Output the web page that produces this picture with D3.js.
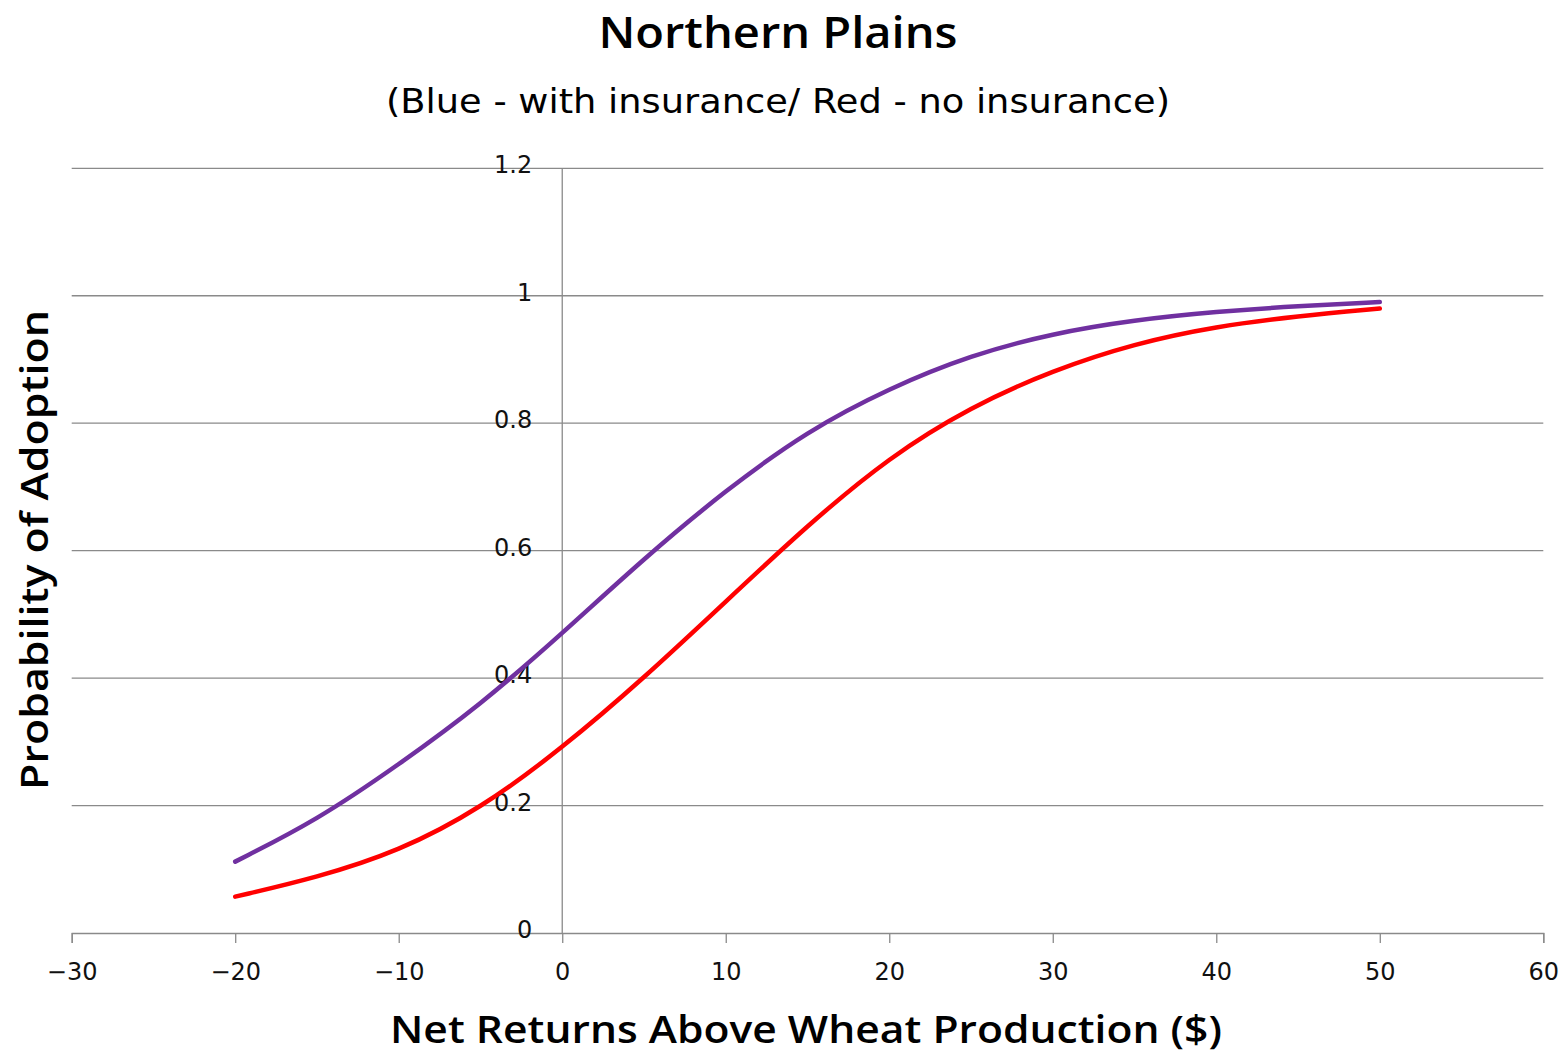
<!DOCTYPE html>
<html>
<head>
<meta charset="utf-8">
<script src="https://cdn.jsdelivr.net/npm/d3@7"></script>
<style>
  html, body { margin: 0; padding: 0; background: #fff; }
  svg { display: block; font-family: "DejaVu Sans", sans-serif; }
</style>
</head>
<body>
<svg id="chart" width="1563" height="1054"></svg>
<script>
// Net returns above wheat production ($)
const netReturns = [-20, -15, -10, -5, 0, 5, 10, 15, 20, 25, 30, 35, 40, 45, 50];
// Probability of adoption, with crop insurance
const withInsurance = [0.112, 0.177, 0.264, 0.358, 0.470, 0.588, 0.695, 0.788, 0.855, 0.907, 0.941, 0.962, 0.975, 0.984, 0.990];
// Probability of adoption, without crop insurance
const noInsurance = [0.057, 0.087, 0.128, 0.195, 0.290, 0.400, 0.520, 0.640, 0.747, 0.826, 0.883, 0.925, 0.952, 0.968, 0.980];

const xTicks = [-30, -20, -10, 0, 10, 20, 30, 40, 50, 60];
const yTicks = [0, 0.2, 0.4, 0.6, 0.8, 1, 1.2];
const yTickLabels = ["0", "0.2", "0.4", "0.6", "0.8", "1", "1.2"];

const svg = d3.select("#chart");

const x = d3.scaleLinear().domain([-30, 60]).range([71.7, 1543.3]);
const y = d3.scaleLinear().domain([0, 1.2]).range([933, 168.3]);

const gridColor = "#8a8a8a";
const titleFont = "'Open Sans', 'DejaVu Sans', sans-serif";

// horizontal gridlines
svg.append("g")
  .selectAll("line")
  .data(yTicks.filter(d => d > 0))
  .join("line")
  .attr("x1", x(-30)).attr("x2", x(60))
  .attr("y1", d => y(d)).attr("y2", d => y(d))
  .attr("stroke", gridColor).attr("stroke-width", 1.3);

// vertical axis crossing at x = 0
svg.append("line")
  .attr("x1", x(0)).attr("x2", x(0))
  .attr("y1", y(0)).attr("y2", y(1.2))
  .attr("stroke", gridColor).attr("stroke-width", 1.3);

// horizontal axis with ticks below
const xAxis = d3.axisBottom(x).tickValues(xTicks).tickSize(10).tickPadding(20)
  .tickFormat(d => d < 0 ? "\u2212" + Math.abs(d) : String(d));
const gx = svg.append("g").attr("transform", `translate(0,${y(0)})`).call(xAxis);
gx.select(".domain").attr("stroke", gridColor).attr("stroke-width", 1.3);
gx.selectAll(".tick line").attr("stroke", gridColor).attr("stroke-width", 1.3);
gx.selectAll(".tick text")
  .attr("fill", "#111").attr("font-size", 24)
  .attr("font-family", "DejaVu Sans, sans-serif");

// y tick labels sit just left of the vertical axis
svg.append("g")
  .selectAll("text")
  .data(yTicks)
  .join("text")
  .attr("x", x(0) - 30)
  .attr("y", d => y(d) + 5)
  .attr("text-anchor", "end")
  .attr("font-size", 24)
  .attr("fill", "#111")
  .text((d, i) => yTickLabels[i]);

// smoothed curves through the sampled probabilities
const line = d3.line()
  .x((d, i) => x(netReturns[i]))
  .y(d => y(d))
  .curve(d3.curveBasis);

svg.append("path")
  .datum(noInsurance)
  .attr("d", line)
  .attr("fill", "none")
  .attr("stroke", "#ff0000")
  .attr("stroke-width", 4.5)
  .attr("stroke-linecap", "round");

svg.append("path")
  .datum(withInsurance)
  .attr("d", line)
  .attr("fill", "none")
  .attr("stroke", "#7030a0")
  .attr("stroke-width", 4.5)
  .attr("stroke-linecap", "round");

// titles
svg.append("text")
  .attr("x", 778).attr("y", 48)
  .attr("text-anchor", "middle")
  .attr("font-family", titleFont)
  .attr("font-size", 44).attr("font-weight", 600)
  .attr("textLength", 359).attr("lengthAdjust", "spacingAndGlyphs")
  .attr("fill", "#000")
  .text("Northern Plains");

svg.append("text")
  .attr("x", 778).attr("y", 113)
  .attr("text-anchor", "middle")
  .attr("font-size", 33)
  .attr("textLength", 784).attr("lengthAdjust", "spacingAndGlyphs")
  .attr("fill", "#000")
  .text("(Blue - with insurance/ Red - no insurance)");

svg.append("text")
  .attr("x", 806).attr("y", 1043)
  .attr("text-anchor", "middle")
  .attr("font-family", titleFont)
  .attr("font-size", 37).attr("font-weight", 600)
  .attr("textLength", 832).attr("lengthAdjust", "spacingAndGlyphs")
  .attr("fill", "#000")
  .text("Net Returns Above Wheat Production ($)");

svg.append("text")
  .attr("transform", "translate(48,550) rotate(-90)")
  .attr("text-anchor", "middle")
  .attr("font-family", titleFont)
  .attr("font-size", 38).attr("font-weight", 600)
  .attr("textLength", 480).attr("lengthAdjust", "spacingAndGlyphs")
  .attr("fill", "#000")
  .text("Probability of Adoption");
</script>
</body>
</html>
